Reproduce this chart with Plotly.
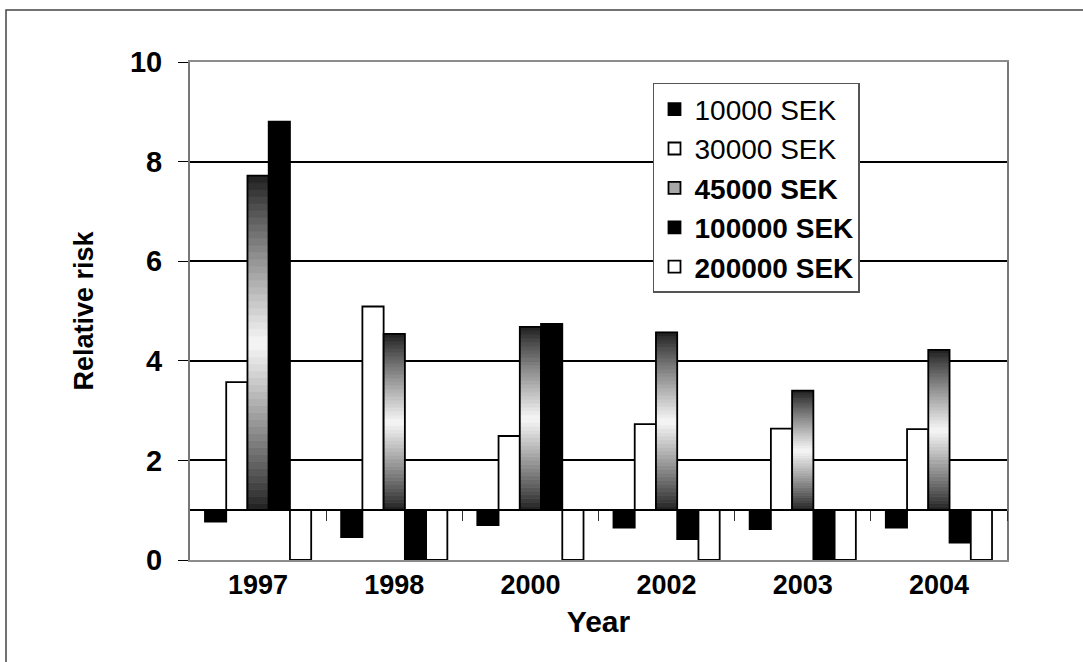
import plotly.graph_objects as go

# Relative risk by year and loss amount (reference level = 1)
years = ["1997", "1998", "2000", "2002", "2003", "2004"]
rr_10000 = [0.77, 0.46, 0.70, 0.65, 0.62, 0.65]
rr_30000 = [3.57, 5.09, 2.49, 2.73, 2.64, 2.63]
rr_45000 = [7.72, 4.54, 4.68, 4.57, 3.40, 4.22]
rr_100000 = [8.80, 0.00, 4.74, 0.42, 0.00, 0.35]
rr_200000 = [0.00, 0.00, 0.00, 0.00, 0.00, 0.00]
y_ticks = [0, 2, 4, 6, 8, 10]

REF = 1.0  # bars grow up or down from relative risk 1
FONT = "Liberation Sans, Arial, sans-serif"

fig = go.Figure()


def plain_bar(name, values, fill, group, rank):
    fig.add_trace(go.Bar(
        x=years, y=[v - REF for v in values], base=REF,
        name=name, offsetgroup=group, legendrank=rank, legendgroup=group,
        marker=dict(color=fill, line=dict(color="black", width=1.8)),
        hoverinfo="skip",
    ))


plain_bar("10000 SEK", rr_10000, "black", "g1", 1)
plain_bar("30000 SEK", rr_30000, "white", "g2", 2)

# 45000 SEK: dark-light-dark vertical shading built from stacked slices
N = 48
gx, gbase, gh, gcol = [], [], [], []
for yr, v in zip(years, rr_45000):
    step = (v - REF) / N
    for k in range(N):
        t = (k + 0.5) / N
        w = 1 - abs(2 * t - 1)
        g = int(30 + (248 - 30) * w ** 0.9)
        gx.append(yr)
        gbase.append(REF + k * step)
        gh.append(step)
        gcol.append(f"rgb({g},{g},{g})")
fig.add_trace(go.Bar(
    x=gx, y=gh, base=gbase, offsetgroup="g3", showlegend=False,
    marker=dict(color=gcol, line=dict(color=gcol, width=0.8)),
    hoverinfo="skip",
))
fig.add_trace(go.Bar(
    x=years, y=[v - REF for v in rr_45000], base=REF, offsetgroup="g3",
    showlegend=False,
    marker=dict(color="rgba(0,0,0,0)", line=dict(color="black", width=1.8)),
    hoverinfo="skip",
))
fig.add_trace(go.Bar(
    x=[None], y=[None], name="<b>45000 SEK</b>", offsetgroup="g3",
    legendrank=3, legendgroup="g3",
    marker=dict(color="#a8a8a8", line=dict(color="black", width=1.8)),
))

plain_bar("<b>100000 SEK</b>", rr_100000, "black", "g4", 4)
plain_bar("<b>200000 SEK</b>", rr_200000, "white", "g5", 5)

# Horizontal axis line crossing at relative risk 1, ticks between years
fig.add_trace(go.Scatter(
    x=[-0.5, 5.5], y=[None, None], xaxis="x2", mode="markers",
    showlegend=False, hoverinfo="skip",
))

fig.update_layout(
    width=1083, height=662,
    margin=dict(l=190, r=76, t=62, b=102),
    paper_bgcolor="white", plot_bgcolor="white",
    barmode="group", bargap=0.22, bargroupgap=0,
    font=dict(family=FONT, color="black"),
    xaxis=dict(
        type="category", categoryarray=years,
        showline=True, mirror=True, linecolor="#8c8c8c", linewidth=2,
        showgrid=False, ticks="", ticklabelstandoff=0,
        tickfont=dict(size=27, weight=700, family=FONT),
        title=dict(text="Year", standoff=12,
                   font=dict(size=30, weight=700, family=FONT)),
    ),
    xaxis2=dict(
        overlaying="x", anchor="free", position=REF / 10,
        range=[-0.5, 5.5], tickvals=[0.5, 1.5, 2.5, 3.5, 4.5, 5.5],
        showticklabels=False, ticks="outside", ticklen=10, tickwidth=1.2,
        tickcolor="#333", showline=True, linecolor="black", linewidth=1.6,
        showgrid=False, zeroline=False,
    ),
    yaxis=dict(
        range=[0, 10], tickvals=y_ticks, showgrid=True, gridcolor="black",
        gridwidth=1.5, zeroline=False, showline=True, mirror=True,
        linecolor="#777", linewidth=2, ticks="outside", ticklen=10,
        tickcolor="black", tickwidth=1.2, ticklabelstandoff=10,
        tickfont=dict(size=29, weight=700, family=FONT),
        title=dict(text="Relative risk", standoff=28,
                   font=dict(size=27, weight=700, family=FONT)),
    ),
    legend=dict(
        x=0.5667, y=0.958, xanchor="left", yanchor="top",
        bgcolor="white", bordercolor="#555", borderwidth=1.5,
        font=dict(size=28, family=FONT, color="black"),
        traceorder="normal", itemwidth=30, tracegroupgap=0,
    ),
    shapes=[dict(
        type="rect", xref="paper", yref="paper",
        x0=-0.2252, x1=1.2, y0=-0.4, y1=1.1044,
        line=dict(color="#444", width=1.5), fillcolor="rgba(0,0,0,0)",
        layer="below",
    )],
)

fig.write_html("out.html")
